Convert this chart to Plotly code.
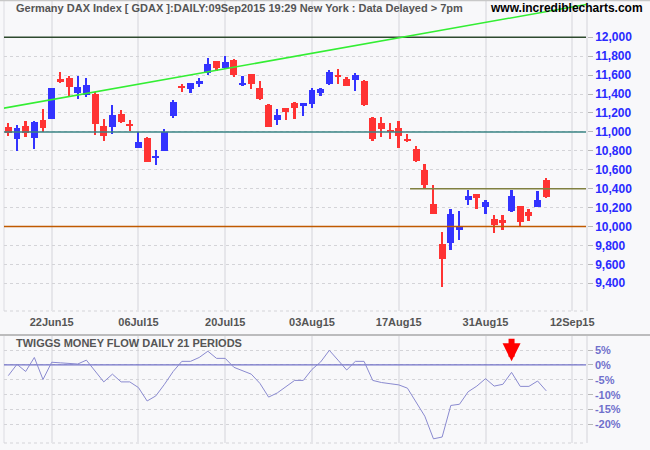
import plotly.graph_objects as go

# ---------------- data ----------------
tick_index = [5, 15, 25, 35, 45, 55, 65]
tick_labels = ["22Jun15", "06Jul15", "20Jul15", "03Aug15", "17Aug15", "31Aug15", "12Sep15"]

opens = [11050, 10923, 11063, 10940, 11126, 11140, 11547, 11565, 11414, 11393,
         11400, 11060, 11053, 11189, 11081, 10835, 10937, 10719, 10803, 11168,
         11481, 11453, 11509, 11621, 11747, 11674, 11758, 11502, 11611, 11460,
         11284, 11126, 11249, 11302, 11277, 11298, 11414, 11509, 11603, 11558,
         11551, 11537, 11147, 11098, 11014, 11045, 10919, 10824, 10593, 10235,
         9814, 9827, 9968, 10280, 10340, 10206, 10077, 10063, 10161, 10214,
         10151, 10206, 10488]
highs = [11092, 11070, 11119, 11116, 11242, 11465, 11632, 11590, 11590, 11565,
         11424, 11137, 11284, 11232, 11126, 10996, 10951, 10811, 11032, 11337,
         11509, 11520, 11572, 11779, 11750, 11800, 11768, 11590, 11615, 11537,
         11295, 11242, 11252, 11316, 11305, 11467, 11467, 11653, 11663, 11576,
         11618, 11547, 11158, 11158, 11098, 11119, 10979, 10856, 10656, 10435,
         9940, 10182, 10161, 10382, 10345, 10277, 10119, 10119, 10382, 10218,
         10182, 10372, 10509]
lows = [10961, 10803, 10951, 10814, 11000, 11135, 11519, 11379, 11351, 11372,
        10968, 10909, 10979, 11091, 11014, 10830, 10677, 10653, 10793, 11151,
        11424, 11414, 11477, 11603, 11645, 11670, 11579, 11488, 11453, 11340,
        11049, 11074, 11126, 11140, 11172, 11256, 11382, 11498, 11509, 11485,
        11435, 11270, 10905, 10951, 10922, 10827, 10891, 10685, 10411, 10128,
        9358, 9754, 9859, 10227, 10185, 10133, 9933, 9964, 10154, 10000,
        10059, 10202, 10301]
closes = [10993, 11039, 10986, 11105, 11045, 11460, 11540, 11477, 11474, 11495,
          11088, 10955, 11179, 11109, 11067, 10895, 10684, 10747, 11000, 11316,
          11474, 11516, 11537, 11716, 11677, 11737, 11603, 11516, 11509, 11347,
          11056, 11176, 11214, 11253, 11302, 11442, 11453, 11632, 11582, 11488,
          11603, 11288, 10926, 11028, 11008, 10954, 10913, 10690, 10438, 10133,
          9659, 10130, 10003, 10319, 10305, 10256, 10017, 10048, 10319, 10048,
          10112, 10277, 10312]

money_flow = [-3.6, 0.2, -2.2, 2.5, -4.9, 0.9, 0.7, 0.6, 0.3, 1.6,
              -1.9, -5.7, -3.1, -5.7, -5.7, -7.6, -12.1, -10.4, -6.5, -2.2,
              1.2, 1.2, 2.5, 4.6, 2.2, 2.2, -0.8, -2.0, -3.1, -6.2,
              -10.8, -9.4, -7.4, -5.2, -5.2, -1.5, 1.0, 4.9, 1.6, -1.7,
              1.2, 1.2, -5.2, -5.9, -6.3, -6.7, -7.8, -12.7, -17.2, -24.8,
              -24.2, -13.6, -13.2, -9.0, -7.1, -4.6, -7.1, -6.5, -2.5, -7.2,
              -7.2, -5.4, -8.7]

price_ticks = [9400, 9600, 9800, 10000, 10200, 10400, 10600, 10800, 11000,
               11200, 11400, 11600, 11800, 12000]
mf_ticks = [-20, -15, -10, -5, 0, 5]
mf_tick_labels = ["-20%", "-15%", "-10%", "-5%", "0%", "5%"]

levels = [12000, 11000, 10400, 10000]
level_colors = ["#2e4a2e", "#3a8484", "#808040", "#c05a00"]
level_start = [None, None, 46.3, None]
mf_zero = 0

trend_idx = [-1, 67]
trend_val = [11243, 12353]

arrow_day = 58

# ---------------- build ----------------
idx = list(range(len(opens)))
RED, BLUE = "#ff3333", "#3333ff"
colors = [BLUE if c > o else RED for o, c in zip(opens, closes)]
body_h = [max(abs(c - o), 21) for o, c in zip(opens, closes)]
body_base = [min(o, c) - (21 - abs(c - o)) / 2 if abs(c - o) < 21 else min(o, c)
             for o, c in zip(opens, closes)]
wick_h = [h - l for h, l in zip(highs, lows)]

XR = [-0.496, 66.58]
BG = "#f8f8fa"
VGRID = "#e6e6ea"
HGRID = "#d4d4d8"

fig = go.Figure()
# horizontal level lines (drawn first, behind candles)
for v, col, st in zip(levels, level_colors, level_start):
    x0 = XR[0] if st is None else st
    fig.add_trace(go.Scatter(x=[x0, XR[1]], y=[v, v], mode="lines",
                             line=dict(color=col, width=1.5), cliponaxis=True,
                             xaxis="x", yaxis="y", hoverinfo="skip"))
fig.add_trace(go.Scatter(x=[XR[0], XR[1]], y=[mf_zero, mf_zero], mode="lines",
                         line=dict(color="#7272c8", width=1.2),
                         xaxis="x2", yaxis="y2", hoverinfo="skip"))
fig.add_trace(go.Bar(x=idx, y=wick_h, base=lows, width=0.23,
                     marker=dict(color=colors, line=dict(width=0)),
                     xaxis="x", yaxis="y", hoverinfo="skip"))
fig.add_trace(go.Bar(x=idx, y=body_h, base=body_base, width=0.8,
                     marker=dict(color=colors, line=dict(width=0)),
                     xaxis="x", yaxis="y", hoverinfo="skip"))
fig.add_trace(go.Scatter(x=trend_idx, y=trend_val, mode="lines",
                         line=dict(color="#33ee33", width=1.5),
                         xaxis="x", yaxis="y", hoverinfo="skip"))
fig.add_trace(go.Scatter(x=idx, y=money_flow, mode="lines",
                         line=dict(color="#8a8ad0", width=1),
                         xaxis="x2", yaxis="y2", hoverinfo="skip"))

shapes = []
# left edges
for ax, ay in [("x", "y"), ("x2", "y2")]:
    shapes.append(dict(type="line", xref=ax + " domain", yref=ay + " domain",
                       x0=0, x1=0, y0=0, y1=1, line=dict(color=VGRID, width=1.5), layer="below"))
# bottom dotted borders
shapes.append(dict(type="line", xref="x domain", yref="y domain", x0=0, x1=1, y0=0, y1=0,
                   line=dict(color=HGRID, width=1, dash="dot"), layer="below"))
shapes.append(dict(type="line", xref="x2 domain", yref="y2 domain", x0=0, x1=1, y0=0, y1=0,
                   line=dict(color=HGRID, width=1, dash="dot"), layer="below"))
# separator between panels and top border
shapes.append(dict(type="line", xref="paper", yref="paper", x0=-0.01, x1=1.12,
                   y0=0.2438, y1=0.2438, line=dict(color="#a8a8a8", width=1.5)))
shapes.append(dict(type="line", xref="paper", yref="paper", x0=-0.01, x1=1.12,
                   y0=0.999, y1=0.999, line=dict(color="#c8c8c8", width=1.5)))

FAM = "Liberation Sans, Arial, sans-serif"
bold = dict(family=FAM, size=11, weight="bold")
bold12 = dict(family=FAM, size=12, weight="bold")

annotations = [
    dict(text="Germany DAX Index [ GDAX ]:DAILY:09Sep2015 19:29 New York : Data Delayed > 7pm",
         xref="paper", yref="paper", x=0.018, y=0.982, xanchor="left", yanchor="middle",
         showarrow=False, font=dict(bold, color="#555555")),
    dict(text="www.incrediblecharts.com", xref="paper", yref="paper", x=1.1015, y=0.982,
         xanchor="right", yanchor="middle", showarrow=False,
         font=dict(bold12, color="#000000")),
    dict(text="TWIGGS MONEY FLOW DAILY 21 PERIODS", xref="paper", yref="paper",
         x=0.018, y=0.2257, xanchor="left", yanchor="middle", showarrow=False,
         font=dict(bold, color="#555555")),
    dict(text="", x=arrow_day, y=1.2, xref="x2", yref="y2", showarrow=True,
         ax=0, ay=-24, arrowhead=2, arrowsize=0.6, arrowwidth=6, arrowcolor="#ff0000"),
]

fig.update_layout(
    width=650, height=450,
    margin=dict(l=4, r=64, t=0, b=7),
    paper_bgcolor=BG, plot_bgcolor=BG,
    showlegend=False, barmode="overlay", bargap=0,
    shapes=shapes, annotations=annotations,
    xaxis=dict(domain=[0, 1], range=XR, anchor="y", tickvals=tick_index, ticktext=tick_labels,
               showgrid=True, gridcolor=VGRID, gridwidth=1.5, zeroline=False, ticks="",
               tickfont=dict(bold, color="#555555"), ticklabelstandoff=3,
               showline=False),
    yaxis=dict(domain=[0.298, 1], range=[9107, 12394], side="right", anchor="x",
               tickvals=price_ticks, tickformat=",d",
               showgrid=True, gridcolor=HGRID, griddash="dot", gridwidth=1,
               zeroline=False, ticks="outside", ticklen=5, tickcolor="#b8b8b8",
               tickfont=dict(bold12, color="#2a2aff"),
               showline=True, linecolor=VGRID, linewidth=1.5),
    xaxis2=dict(domain=[0, 1], range=XR, anchor="y2", tickvals=tick_index,
                showticklabels=False, showgrid=True, gridcolor=VGRID, gridwidth=1.5,
                zeroline=False, ticks=""),
    yaxis2=dict(domain=[0, 0.2415], range=[-26.2, 9.7], side="right", anchor="x2",
                tickvals=mf_ticks, ticktext=mf_tick_labels,
                showgrid=True, gridcolor=HGRID, griddash="dot", gridwidth=1,
                zeroline=False, ticks="outside", ticklen=5, tickcolor="#b8b8b8",
                tickfont=dict(bold, color="#7070cc"),
                showline=True, linecolor=VGRID, linewidth=1.5),
)

fig.write_html("out.html")
